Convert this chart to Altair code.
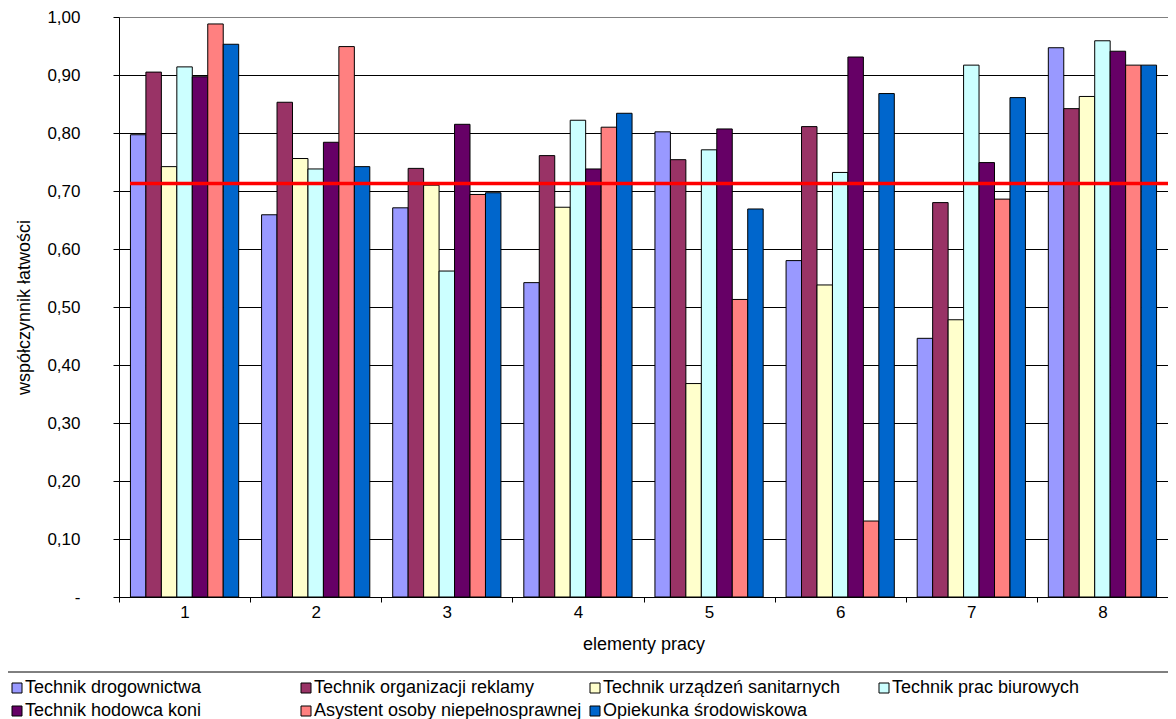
import altair as alt
import pandas as pd

elements = ["1", "2", "3", "4", "5", "6", "7", "8"]
series = [
    "Technik drogownictwa",
    "Technik organizacji reklamy",
    "Technik urządzeń sanitarnych",
    "Technik prac biurowych",
    "Technik hodowca koni",
    "Asystent osoby niepełnosprawnej",
    "Opiekunka środowiskowa",
]
colors = ["#9999FF", "#993366", "#FFFFCC", "#CCFFFF", "#660066", "#FF8080", "#0066CC"]

drogownictwa = [0.797, 0.659, 0.671, 0.542, 0.802, 0.580, 0.446, 0.947]
reklamy = [0.905, 0.853, 0.739, 0.761, 0.754, 0.811, 0.680, 0.842]
sanitarnych = [0.742, 0.756, 0.710, 0.672, 0.368, 0.538, 0.478, 0.863]
biurowych = [0.914, 0.738, 0.562, 0.822, 0.771, 0.732, 0.917, 0.959]
hodowca = [0.897, 0.784, 0.815, 0.738, 0.807, 0.931, 0.749, 0.941]
asystent = [0.988, 0.949, 0.694, 0.810, 0.513, 0.131, 0.686, 0.917]
opiekunka = [0.953, 0.742, 0.697, 0.834, 0.669, 0.868, 0.861, 0.917]

average = [0.713]
y_ticks = [0.0, 0.1, 0.2, 0.3, 0.4, 0.5, 0.6, 0.7, 0.8, 0.9, 1.0]

all_values = [drogownictwa, reklamy, sanitarnych, biurowych, hodowca, asystent, opiekunka]
rows = []
for s, vals in zip(series, all_values):
    for e, v in zip(elements, vals):
        rows.append({"element": e, "series": s, "value": v})
df = pd.DataFrame(rows)

W, H = 1049, 580
FONT = "Liberation Sans"
YTITLE = "współczynnik łatwości"

bars = alt.Chart(df).mark_bar(stroke="black", strokeWidth=1).encode(
    x=alt.X(
        "element:N",
        sort=elements,
        scale=alt.Scale(paddingInner=0, paddingOuter=0),
        axis=alt.Axis(
            title="elementy pracy",
            labelAngle=0,
            tickBand="extent",
            tickSize=5,
            tickColor="black",
            domainColor="black",
            labelPadding=2,
            titleY=47,
            titleBaseline="middle",
            grid=False,
        ),
    ),
    xOffset=alt.XOffset(
        "series:N",
        sort=series,
        scale=alt.Scale(domain=series, paddingInner=0, paddingOuter=0.74),
    ),
    y=alt.Y(
        "value:Q",
        scale=alt.Scale(domain=[0, 1], nice=False),
        axis=alt.Axis(
            title=YTITLE,
            values=y_ticks,
            labelExpr="datum.value == 0 ? '-' : replace(format(datum.value, '.2f'), '.', ',')",
            tickSize=6,
            tickColor="black",
            domainColor="black",
            labelPadding=33,
            grid=True,
            gridColor={"condition": {"test": "datum.value === 1", "value": "#808080"}, "value": "#000000"},
            titleX=-95,
            titleBaseline="middle",
        ),
    ),
    color=alt.Color(
        "series:N",
        scale=alt.Scale(domain=series, range=colors),
        legend=alt.Legend(
            title=None,
            orient="none",
            legendX=-111,
            legendY=662,
            direction="horizontal",
            columns=4,
            symbolType="square",
            symbolSize=100,
            symbolStrokeColor="black",
            symbolStrokeWidth=1,
            labelFontSize=18,
            labelFont=FONT,
            labelColor="black",
            labelLimit=0,
            labelOffset={"expr": "-1"},
            gridAlign="all",
            columnPadding=4,
            rowPadding=5,
            padding=0,
        ),
    ),
)

avg_line = alt.Chart(pd.DataFrame({"value": average})).mark_rule(
    color="#FF0000", strokeWidth=3.5
).encode(
    y=alt.Y("value:Q", title=YTITLE),
    x=alt.value(11),
    x2=alt.value(W),
)

separator = alt.Chart(pd.DataFrame({"a": [0]})).mark_rule(
    color="black", strokeWidth=1
).encode(
    x=alt.value(-111),
    x2=alt.value(W),
    y=alt.value(655),
)

chart = alt.layer(bars, avg_line, separator).properties(
    width=W,
    height=H,
    autosize=alt.AutoSizeParams(type="none"),
    padding={"left": 111, "top": 9, "right": 0, "bottom": 122},
).configure_view(
    stroke="#808080", strokeWidth=1
).configure_axis(
    labelFont=FONT,
    titleFont=FONT,
    labelFontSize=17,
    titleFontSize=18,
    labelColor="black",
    titleColor="black",
    titleFontWeight="normal",
)

chart.save("out.html", embed_options={"renderer": "svg", "actions": False})
